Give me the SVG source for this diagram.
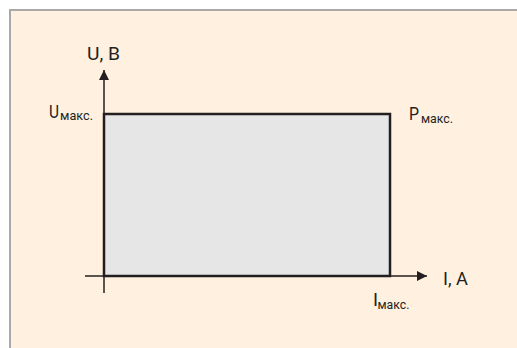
<svg xmlns="http://www.w3.org/2000/svg" width="517" height="348" viewBox="0 0 517 348">
<defs>
<style>
.t{font-family:Roboto,"Liberation Sans",sans-serif;fill:#231f20;font-size:18.5px}
.s{font-size:13.5px}
.ax{stroke:#231f20;stroke-width:1.5;fill:none}
</style>
<marker id="ah" viewBox="0 0 10 10" refX="10" refY="5" markerWidth="10" markerHeight="10" markerUnits="userSpaceOnUse" orient="auto">
<path d="M0,0 L10,5 L0,10 Z" fill="#231f20"/>
</marker>
</defs>
<rect width="517" height="348" fill="#ffffff"/>
<rect x="10" y="10" width="520" height="350" fill="#fff0e0" stroke="#a9a9a9" stroke-width="2"/>
<g id="area">
<rect x="104" y="114" width="286" height="162" fill="#e6e6e6" stroke="#231f20" stroke-width="2.5"/>
</g>
<g id="connectors">
<line class="ax" x1="104" y1="293" x2="104" y2="70" marker-end="url(#ah)"/>
<line class="ax" x1="85" y1="276" x2="427" y2="276" marker-end="url(#ah)"/>
</g>
<g id="labels">
<text class="t" x="87" y="60" textLength="33" lengthAdjust="spacingAndGlyphs">U, B</text>
<text class="t" x="49" y="118"><tspan textLength="10" lengthAdjust="spacingAndGlyphs">U</tspan><tspan class="s" dy="2" x="60" textLength="33" lengthAdjust="spacingAndGlyphs">макс.</tspan></text>
<text class="t" x="409" y="120"><tspan textLength="10" lengthAdjust="spacingAndGlyphs">P</tspan><tspan class="s" dy="3" x="421" textLength="32" lengthAdjust="spacingAndGlyphs">макс.</tspan></text>
<text class="t" x="443" y="285" textLength="25" lengthAdjust="spacingAndGlyphs">I, A</text>
<text class="t" x="373" y="306"><tspan>I</tspan><tspan class="s" dy="3" x="377.5" textLength="32" lengthAdjust="spacingAndGlyphs">макс.</tspan></text>
</g>
</svg>
